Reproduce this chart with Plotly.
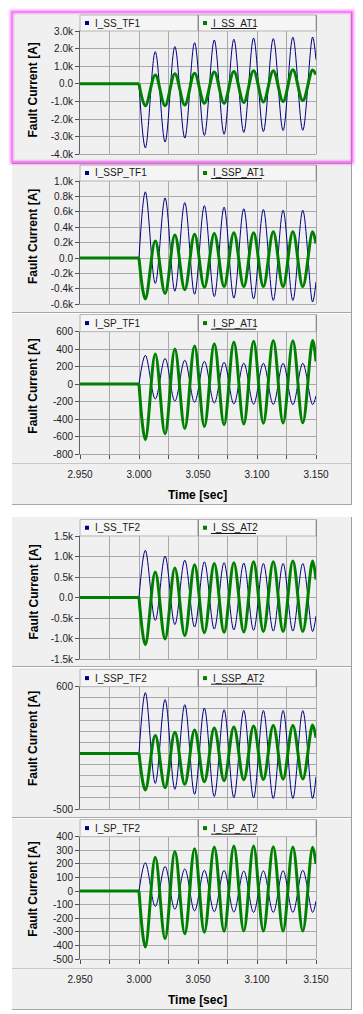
import plotly.graph_objects as go

W, H = 363, 1014

# ---------------- data ----------------
# time stamps [s]: pre-fault flat part, then fault start, alternating extrema, end of window
t_pre = [2.950, 3.000]
i_pre = [0, 0]
t_wave = [3.0000, 3.0054, 3.0138, 3.0221, 3.0304, 3.0388, 3.0471, 3.0554, 3.0638,
          3.0721, 3.0804, 3.0888, 3.0971, 3.1054, 3.1138, 3.1221, 3.1304, 3.1388,
          3.1471, 3.1500]

# fault currents [A] at those time stamps
i_ss_tf1 = [0, -3640, 1830, -3300, 2120, -3080, 2340, -2930, 2490, -2860, 2530,
            -2760, 2600, -2710, 2570, -2650, 2650, -2640, 2660, 1370]
i_ss_at1 = [0, -1250, 500, -1240, 580, -1200, 600, -1100, 670, -1100, 700,
            -1060, 740, -1030, 750, -1000, 800, -950, 790, 520]
i_ssp_tf1 = [0, 860, -330, 780, -430, 720, -470, 680, -500, 660, -520,
             640, -530, 630, -550, 620, -550, 620, -570, -310]
i_ssp_at1 = [0, -530, 220, -460, 300, -410, 310, -380, 320, -370, 330,
             -370, 330, -370, 340, -370, 340, -370, 340, 190]
i_sp_tf1 = [0, 330, -170, 294, -195, 273, -208, 260, -217, 250, -227,
            240, -230, 238, -233, 238, -235, 238, -235, -134]
i_sp_at1 = [0, -637, 344, -570, 402, -508, 437, -485, 463, -466, 483,
            -456, 492, -447, 498, -445, 495, -443, 498, 260]
i_ss_tf2 = [0, 1150, -560, 1010, -660, 910, -720, 870, -770, 850, -790,
            840, -800, 830, -820, 830, -820, 830, -830, -450]
i_ss_at2 = [0, -1150, 620, -1010, 720, -930, 800, -860, 830, -850, 850,
            -840, 870, -830, 870, -830, 890, -830, 890, 440]
i_ssp_tf2 = [0, 547, -270, 485, -323, 438, -368, 408, -388, 393, -398,
             387, -400, 386, -405, 386, -405, 385, -405, -210]
i_ssp_at2 = [0, -330, 162, -308, 190, -278, 211, -255, 228, -245, 238,
             -237, 247, -235, 252, -232, 252, -230, 255, 140]
i_sp_tf2 = [0, 209, -113, 181, -134, 163, -146, 153, -152, 152, -155,
            148, -157, 149, -157, 150, -157, 153, -157, -74]
i_sp_at2 = [0, -412, 248, -351, 292, -315, 312, -303, 325, -296, 331,
            -294, 331, -294, 326, -294, 324, -294, 322, 200]

names_tf = ["I_SS_TF1", "I_SSP_TF1", "I_SP_TF1", "I_SS_TF2", "I_SSP_TF2", "I_SP_TF2"]
names_at = ["I_SS_AT1", "I_SSP_AT1", "I_SP_AT1", "I_SS_AT2", "I_SSP_AT2", "I_SP_AT2"]
series_tf = [i_ss_tf1, i_ssp_tf1, i_sp_tf1, i_ss_tf2, i_ssp_tf2, i_sp_tf2]
series_at = [i_ss_at1, i_ssp_at1, i_sp_at1, i_ss_at2, i_ssp_at2, i_sp_at2]

y_ranges = [[-4000, 3000], [-600, 1000], [-800, 600], [-1500, 1500], [-500, 600], [-500, 400]]
y_tickvals = [
    [-4000, -3000, -2000, -1000, 0, 1000, 2000, 3000],
    [-600, -400, -200, 0, 200, 400, 600, 800, 1000],
    [-800, -600, -400, -200, 0, 200, 400, 600],
    [-1500, -1000, -500, 0, 500, 1000, 1500],
    [-500, 600],
    [-500, -400, -300, -200, -100, 0, 100, 200, 300, 400],
]
y_ticktext = [
    ["-4.0k", "-3.0k", "-2.0k", "-1.0k", "0.0", "1.0k", "2.0k", "3.0k"],
    ["-0.6k", "-0.4k", "-0.2k", "0.0", "0.2k", "0.4k", "0.6k", "0.8k", "1.0k"],
    ["-800", "-600", "-400", "-200", "0", "200", "400", "600"],
    ["-1.5k", "-1.0k", "-0.5k", "0.0", "0.5k", "1.0k", "1.5k"],
    ["-500", "600"],
    ["-500", "-400", "-300", "-200", "-100", "0", "100", "200", "300", "400"],
]
y5_gridvals = [-500, -400, -300, -200, -100, 0, 100, 200, 300, 400, 500, 600]
x_tickvals = [2.950, 2.975, 3.000, 3.025, 3.050, 3.075, 3.100, 3.125, 3.150]
x_ticktext = ["2.950", "", "3.000", "", "3.050", "", "3.100", "", "3.150"]
x_title = "Time [sec]"
y_title = "Fault Current [A]"

# ---------------- layout geometry (pixels) ----------------
PL, PR = 80, 316                       # plot left / right
plot_tops = [31, 181, 331.7, 536, 686.7, 836.7]
plot_bots = [154.3, 304.3, 454, 659, 809, 959]
leg_tops = [15, 165, 314.5, 519.5, 669.5, 819.5]
ytitle_centers = [90.5, 237, 386.7, 592.5, 739, 889.7]
labelled_x = [2, 5]

BLUE = "#000080"
GREEN = "#008000"
GRID = "#a8a8a8"
PANEL = "#f0f0f0"
FONT = "Liberation Sans, Arial, sans-serif"


def fx(px):
    return px / W


def fy(py):
    return 1 - py / H


shapes = []


def rect(x0, y0, x1, y1, fill=None, line=None, lw=1, layer="below"):
    shapes.append(dict(type="rect", xref="paper", yref="paper",
                       x0=fx(x0), x1=fx(x1), y0=fy(y1), y1=fy(y0),
                       fillcolor=fill if fill else "rgba(0,0,0,0)",
                       line=dict(color=line if line else "rgba(0,0,0,0)", width=lw if line else 0),
                       layer=layer))


def seg(x0, y0, x1, y1, color, lw=1, layer="above"):
    shapes.append(dict(type="line", xref="paper", yref="paper",
                       x0=fx(x0), x1=fx(x1), y0=fy(y0), y1=fy(y1),
                       line=dict(color=color, width=lw), layer=layer))


annotations = []


def text(x, y, s, size=10, bold=False, xanchor="left", angle=0, color="#1a1a1a"):
    annotations.append(dict(xref="paper", yref="paper", x=fx(x), y=fy(y), text=s,
                            showarrow=False, xanchor=xanchor, yanchor="middle",
                            textangle=angle,
                            font=dict(family=FONT, size=size, color=color,
                                      weight="bold" if bold else "normal")))


# group backgrounds
rect(12, 12, 351, 505, fill=PANEL)
rect(12, 517, 351, 1010, fill=PANEL)
seg(351.5, 12, 351.5, 505, "#a0a0a0")
seg(351.5, 517, 351.5, 1010, "#a0a0a0")
for yy in [312.5, 666.5, 817.5]:
    seg(12, yy, 351, yy, "#a8a8a8")
    seg(12, yy + 1, 351, yy + 1, "#ffffff")
seg(12, 504.5, 351, 504.5, "#a8a8a8")
seg(12, 1009.5, 351, 1009.5, "#a8a8a8")
seg(12, 163.5, 351, 163.5, "#a8a8a8")
for yy in [463.5, 968.5]:
    seg(12, yy, 351, yy, "#c8c8c8")

fig = go.Figure()

for p in range(6):
    k = "" if p == 0 else str(p + 1)
    xa, ya = "x" + k, "y" + k
    fig.add_trace(go.Scatter(x=t_wave, y=series_tf[p], mode="lines", xaxis=xa, yaxis=ya,
                             line=dict(color=BLUE, width=1, shape="spline", smoothing=1),
                             showlegend=False, hoverinfo="skip"))
    fig.add_trace(go.Scatter(x=t_pre, y=i_pre, mode="lines", xaxis=xa, yaxis=ya,
                             line=dict(color=GREEN, width=3),
                             showlegend=False, hoverinfo="skip"))
    fig.add_trace(go.Scatter(x=t_wave, y=series_at[p], mode="lines", xaxis=xa, yaxis=ya,
                             line=dict(color=GREEN, width=3, shape="spline", smoothing=1),
                             showlegend=False, hoverinfo="skip"))

    show_x = p in labelled_x
    xaxis = dict(domain=[fx(PL), fx(PR)], range=[2.950, 3.150], anchor=ya,
                 tickmode="array", tickvals=x_tickvals, ticktext=x_ticktext,
                 showticklabels=show_x, ticks="outside" if show_x else "",
                 ticklen=4, tickcolor="#505050", automargin=False,
                 ticklabelstandoff=7,
                 tickfont=dict(family=FONT, size=10, color="#1a1a1a"),
                 showgrid=True, gridcolor=GRID, gridwidth=1, zeroline=False,
                 showline=True, linecolor=GRID, mirror=True, fixedrange=True)
    yaxis = dict(domain=[fy(plot_bots[p]), fy(plot_tops[p])], range=y_ranges[p], anchor=xa,
                 tickmode="array", tickvals=y_tickvals[p], ticktext=y_ticktext[p],
                 ticks="outside", ticklen=4, tickcolor="#505050", automargin=False,
                 tickfont=dict(family=FONT, size=10, color="#1a1a1a"),
                 showgrid=True, gridcolor=GRID, gridwidth=1, zeroline=False,
                 showline=True, linecolor="#606060", mirror=False, fixedrange=True)
    if p == 4:
        yaxis["showgrid"] = False
        yaxis["minor"] = dict(tickmode="array", tickvals=y5_gridvals, showgrid=True,
                              gridcolor=GRID, gridwidth=1, ticks="")
    fig.update_layout(**{"xaxis" + k: xaxis, "yaxis" + k: yaxis})

    # right border of plot area
    seg(PR + 0.5, plot_tops[p], PR + 0.5, plot_bots[p], GRID)

    # legend bar
    lt, lb = leg_tops[p], plot_tops[p]
    c = (lt + lb) / 2
    rect(PL, lt, 198, lb, fill="#f5f5f5", line="#b4b4b4", layer="above")
    rect(198, lt, PR, lb, fill="#f5f5f5", line="#b4b4b4", layer="above")
    seg(198.5, lt, 198.5, lb, "#8a8a8a")
    seg(PR + 0.5, lt, PR + 0.5, lb, "#8a8a8a")
    rect(85, c - 2, 89, c + 2, fill=BLUE, layer="above")
    rect(203, c - 2, 207, c + 2, fill=GREEN, layer="above")
    text(92.5, c, names_tf[p])
    text(210.5, c, names_at[p])
    seg(211, lb - 2.5, 256 if len(names_at[p]) == 8 else 262, lb - 2.5, "#1a1a1a")

    # y title
    text(33, ytitle_centers[p], y_title, size=12, bold=True, xanchor="center", angle=-90,
         color="#000000")

text(198, 495, x_title, size=12, bold=True, xanchor="center", color="#000000")
text(198, 1000, x_title, size=12, bold=True, xanchor="center", color="#000000")

# magenta selection frame with glow around first panel
for d, a in [(3, 0.10), (2, 0.22), (1, 0.40)]:
    rect(12 - d, 12 - d, 352 + d, 162 + d, line="rgba(255,0,255,%.2f)" % a, layer="above")
for d, a in [(1, 0.30), (2, 0.12)]:
    rect(12 + d, 12 + d, 352 - d, 162 - d, line="rgba(255,0,255,%.2f)" % a, layer="above")
rect(12, 12, 352, 162, line="#f040f0", layer="above")

fig.update_layout(width=W, height=H, autosize=False,
                  margin=dict(l=0, r=0, t=0, b=0, pad=0, autoexpand=False),
                  paper_bgcolor="#ffffff", plot_bgcolor="#ffffff",
                  shapes=shapes, annotations=annotations, showlegend=False)

fig.write_html("out.html", config={"displayModeBar": False, "staticPlot": True},
               post_script="document.documentElement.style.margin='0';"
                           "document.body.style.margin='0';"
                           "document.body.style.padding='0';"
                           "document.body.style.overflow='hidden';")
